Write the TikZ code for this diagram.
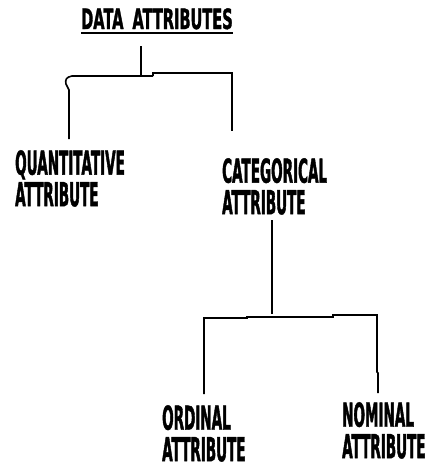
\documentclass[tikz,border=0pt]{standalone}
\usepackage{fontspec}
\newfontfamily\lblfont[FakeStretch=0.41,FakeBold=1.2]{DejaVu Sans}
\newfontfamily\ttlfont[FakeStretch=0.52,FakeBold=1.2]{DejaVu Sans}

\begin{document}
\begin{tikzpicture}[x=1pt,y=-1pt,
	lbl/.style={anchor=north west,inner sep=0pt,align=left,
		font=\lblfont\bfseries\fontsize{33}{31.5}\selectfont},
	ttl/.style={anchor=base west,inner sep=0pt,
		font=\ttlfont\bfseries\fontsize{28}{30}\selectfont},
	branch/.style={line width=1.6pt}]

	\useasboundingbox[fill=white] (0,0) rectangle (433,467);

	% labels
	\node[ttl] (data) at (81,29) {DATA\hspace{9pt}ATTRIBUTES};
	\draw[line width=2pt] ([yshift=-4pt]data.base west) -- ([yshift=-4pt]data.base east);

	\node[lbl] (quant) at (15,150) {QUANTITATIVE\\ATTRIBUTE};
	\node[lbl] (categ) at (222,158) {CATEGORICAL\\ATTRIBUTE};
	\node[lbl] (ordin) at (162,405) {ORDINAL\\ATTRIBUTE};
	\node[lbl] (nomin) at (342,402) {NOMINAL\\ATTRIBUTE};

	% first level
	\coordinate (d0) at (141,46); \coordinate (d1) at (141,75);
	\coordinate (q0) at (69,139); \coordinate (c0) at (232,131);

	\draw[branch] (d0) -- (d1);
	\draw[branch] (153,76) -- (72,76) .. controls (66,77) and (65,80) .. (66,84)
		-- (69,90) -- (q0);
	\draw[branch] (153,76) -- (153,73) -- (232,73) -- (c0);

	% second level
	\coordinate (c1) at (272,220); \coordinate (c2) at (272,314);
	\coordinate (o0) at (204,394); \coordinate (n0) at (378,393);

	\draw[branch] (c1) -- (c2);
	\draw[branch] (o0) -- (204,318) -- (247,318) -- (247,317) -- (333,317)
		-- (333,315) -- (377,315) -- (377,372) -- (378,373) -- (n0);
\end{tikzpicture}
\end{document}
